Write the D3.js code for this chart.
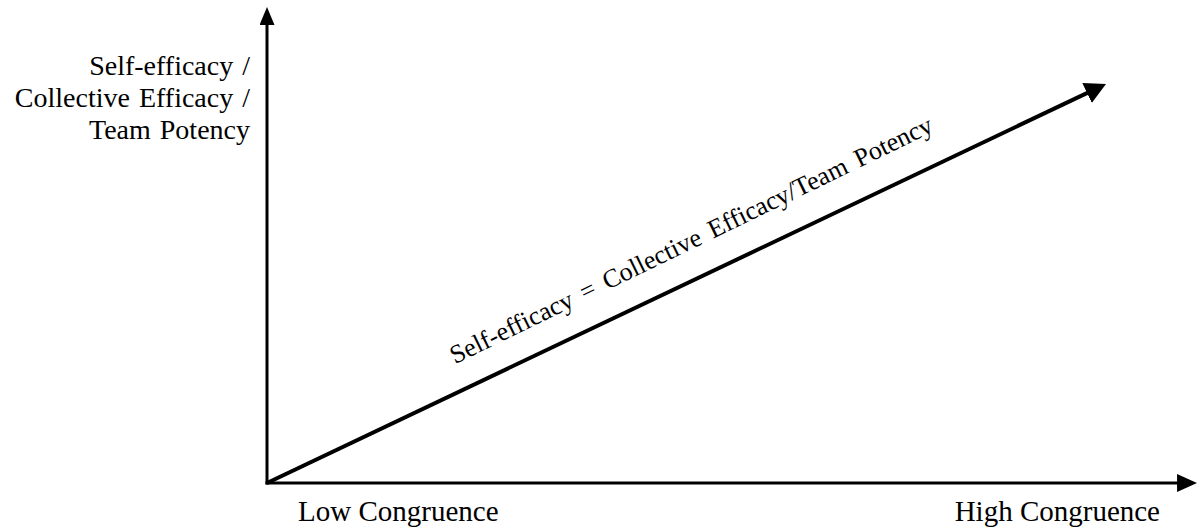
<!DOCTYPE html>
<html>
<head>
<meta charset="utf-8">
<script src="https://cdn.jsdelivr.net/npm/d3@7"></script>
</head>
<body style="margin:0; background:#fff">
<div id="chart"></div>
<script>
// ---- data ----
const xLabels = ["Low Congruence", "High Congruence"];
const yLabelLines = ["Self-efficacy /", "Collective Efficacy /", "Team Potency"];
const lineLabel = "Self-efficacy = Collective Efficacy/Team Potency";
const congruence = [0, 1];
const efficacy = [0, 1];
const xAxisMax = 1.1085;
const yAxisMax = 1.193;
const labelAt = 0.238;

// ---- layout ----
const W = 1198, H = 532;
const FONT = "'Liberation Serif'";
const x = d3.scaleLinear().domain([0, 1]).range([267, 1106]);
const y = d3.scaleLinear().domain([0, 1]).range([483, 84]);

const svg = d3.select("#chart").append("svg")
  .attr("width", W).attr("height", H)
  .style("display", "block");

const defs = svg.append("defs");
function marker(id, len, half) {
  defs.append("marker")
    .attr("id", id)
    .attr("markerUnits", "userSpaceOnUse")
    .attr("viewBox", `0 ${-half} ${len} ${2 * half}`)
    .attr("markerWidth", len).attr("markerHeight", 2 * half)
    .attr("refX", len - 6).attr("refY", 0)
    .attr("orient", "auto")
    .append("path")
    .attr("d", `M0,${-half}L${len},0L0,${half}Z`)
    .attr("fill", "#000");
}
marker("arrY", 18, 7.5);
marker("arrX", 20, 9);
marker("arrLine", 21, 11);

function pull(x0, y0, x1, y1, d) {
  const L = Math.hypot(x1 - x0, y1 - y0);
  return [x1 - (x1 - x0) / L * d, y1 - (y1 - y0) / L * d];
}

// y axis
const yEnd = pull(x(0), y(0), x(0), y(yAxisMax), 6);
svg.append("line")
  .attr("x1", x(0)).attr("y1", y(0) + 1.5)
  .attr("x2", yEnd[0]).attr("y2", yEnd[1])
  .attr("stroke", "#000").attr("stroke-width", 3)
  .attr("marker-end", "url(#arrY)");

// x axis
const xEnd = pull(x(0), y(0), x(xAxisMax), y(0), 6);
svg.append("line")
  .attr("x1", x(0) - 1.5).attr("y1", y(0))
  .attr("x2", xEnd[0]).attr("y2", xEnd[1])
  .attr("stroke", "#000").attr("stroke-width", 3)
  .attr("marker-end", "url(#arrX)");

// diagonal line
const pts = congruence.map((c, i) => [x(c), y(efficacy[i])]);
const dEnd = pull(pts[0][0], pts[0][1], pts[1][0], pts[1][1], 6);
svg.append("path")
  .attr("d", d3.line()([pts[0], dEnd]))
  .attr("fill", "none")
  .attr("stroke", "#000").attr("stroke-width", 4)
  .attr("marker-end", "url(#arrLine)");

// diagonal label
const ang = Math.atan2(y(1) - y(0), x(1) - x(0)) * 180 / Math.PI;
const lx = x(labelAt), ly = y(labelAt);
svg.append("text")
  .attr("transform", `translate(${lx},${ly}) rotate(${ang - 0.5}) translate(0,-26.5)`)
  .style("font-family", FONT)
  .attr("font-size", 26)
  .style("word-spacing", "4px")
  .text(lineLabel);

// y label
yLabelLines.forEach((t, i) => {
  svg.append("text")
    .attr("x", 250)
    .attr("y", 75 + i * 32)
    .attr("text-anchor", "end")
    .style("font-family", FONT)
    .attr("font-size", 28)
    .style("word-spacing", "2px")
    .text(t);
});

// x labels
svg.append("text")
  .attr("x", x(0) + 31).attr("y", 521)
  .style("font-family", FONT)
  .attr("font-size", 29)
  .text(xLabels[0]);
svg.append("text")
  .attr("x", x(1) + 54).attr("y", 521)
  .attr("text-anchor", "end")
  .style("font-family", FONT)
  .attr("font-size", 29)
  .text(xLabels[1]);
</script>
</body>
</html>
